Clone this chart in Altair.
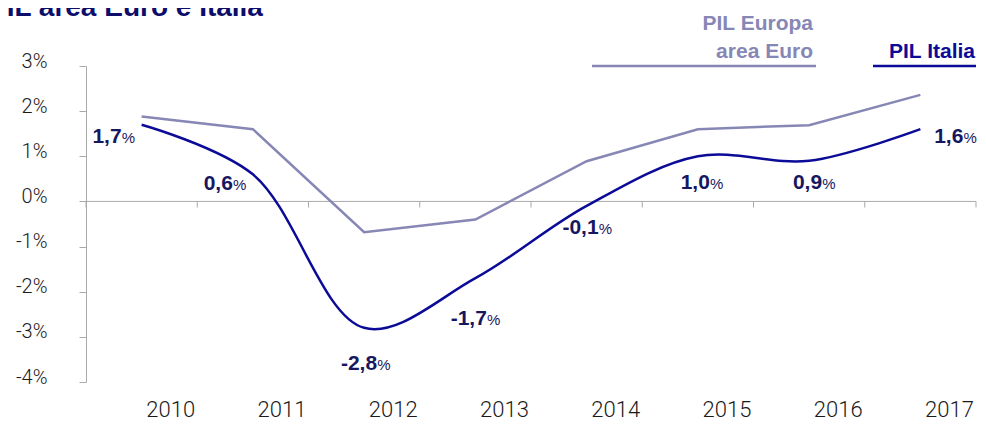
import altair as alt
import pandas as pd

# ---- data ----
years = [2010, 2011, 2012, 2013, 2014, 2015, 2016, 2017]
italia = [1.7, 0.6, -2.8, -1.7, -0.1, 1.0, 0.9, 1.6]
europa = [1.88, 1.60, -0.68, -0.40, 0.89, 1.60, 1.69, 2.36]
italia_labels = ["1,7", "0,6", "-2,8", "-1,7", "-0,1", "1,0", "0,9", "1,6"]
y_ticks = [-4, -3, -2, -1, 0, 1, 2, 3]
tick_bounds = [2009.5, 2010.5, 2011.5, 2012.5, 2013.5, 2014.5, 2015.5, 2016.5, 2017.5]

title_text = "PIL area Euro e Italia"
legend_eu = ["PIL Europa", "area Euro"]
legend_it = "PIL Italia"

# ---- styles ----
W, H = 890, 316
NAVY_LINE = "#0b0b98"
NAVY_TEXT = "#17175f"
EU_COLOR = "#8787b6"
AXIS_GRAY = "#aaaaaa"
BOLD_FONT = "Liberation Sans"
LIGHT_FONT = "Roboto"

# label offsets (dx, dy) in pixels from each Italy point
label_offsets = [(-20, 18), (-20, 16), (13, 42), (11.5, 47), (12, 28), (12, 33), (13, 28), (43, 14)]

df = pd.DataFrame({"year": years, "italia": italia, "europa": europa, "lab": italia_labels})
df_b = pd.DataFrame({"b": tick_bounds})
one = pd.DataFrame({"a": [0]})

x_scale = alt.Scale(domain=[2009.5, 2017.5], nice=False, zero=False)
y_scale = alt.Scale(domain=[-4, 3], nice=False, zero=False)

x_axis = alt.Axis(
    values=years, format="d", labelAlign="right", labelOffset=53, labelPadding=34,
    labelBaseline="alphabetic", domain=False, ticks=False, tickSize=0, grid=False,
    title=None, labelFont=LIGHT_FONT, labelFontWeight=300, labelFontSize=22,
    labelColor="#1a1a1a", labelFlush=False, labelOverlap=False, labelBound=False,
)
y_axis = alt.Axis(
    values=y_ticks, labelExpr="datum.value + '%'", domainColor=AXIS_GRAY, tickColor=AXIS_GRAY,
    tickSize=7, labelPadding=32, labelFontSize=20, labelBaseline="alphabetic", labelOffset=1,
    labelFont=LIGHT_FONT, labelFontWeight=300, labelColor="#1a1a1a", grid=False, title=None,
)

base = alt.Chart(df)

eu_line = base.mark_line(color=EU_COLOR, strokeWidth=2.5).encode(
    x=alt.X("year:Q", scale=x_scale, axis=x_axis),
    y=alt.Y("europa:Q", scale=y_scale, axis=y_axis),
)
it_line = base.mark_line(color=NAVY_LINE, strokeWidth=2.5, interpolate="catmull-rom").encode(
    x=alt.X("year:Q", scale=x_scale),
    y=alt.Y("italia:Q", scale=y_scale),
)

zero_rule = alt.Chart(one).mark_rule(color=AXIS_GRAY, strokeWidth=1).encode(
    y=alt.datum(0), x=alt.value(0), x2=alt.value(W)
)
tick_rules = alt.Chart(df_b).mark_rule(color=AXIS_GRAY, strokeWidth=1).encode(
    x=alt.X("b:Q", scale=x_scale), y=alt.datum(0), y2=alt.datum(-0.135)
)

layers = [zero_rule, tick_rules, eu_line, it_line]

for yr, (dx, dy) in zip(years, label_offsets):
    num = base.transform_filter(alt.datum.year == yr).mark_text(
        align="right", baseline="alphabetic", dx=dx, dy=dy, font=BOLD_FONT,
        fontWeight="bold", fontSize=21, color=NAVY_TEXT,
    ).encode(x=alt.X("year:Q", scale=x_scale), y=alt.Y("italia:Q", scale=y_scale), text="lab:N")
    pct = base.transform_filter(alt.datum.year == yr).mark_text(
        align="left", baseline="alphabetic", dx=dx, dy=dy, font=BOLD_FONT,
        fontWeight="normal", fontSize=15, color=NAVY_TEXT,
    ).encode(x=alt.X("year:Q", scale=x_scale), y=alt.Y("italia:Q", scale=y_scale), text=alt.value("%"))
    layers += [num, pct]

# title (partly cut at the top like the reference)
title = alt.Chart(one).mark_text(
    align="left", baseline="alphabetic", font=BOLD_FONT, fontWeight="bold", fontSize=28,
    color="#0d0d6b",
).encode(x=alt.value(-98), y=alt.value(-50), text=alt.value(title_text))

# legend
leg_eu1 = alt.Chart(one).mark_text(
    align="right", baseline="alphabetic", font=BOLD_FONT, fontWeight="bold", fontSize=21, color=EU_COLOR,
).encode(x=alt.value(727), y=alt.value(-36), text=alt.value(legend_eu[0]))
leg_eu2 = alt.Chart(one).mark_text(
    align="right", baseline="alphabetic", font=BOLD_FONT, fontWeight="bold", fontSize=21, color=EU_COLOR,
).encode(x=alt.value(727), y=alt.value(-8), text=alt.value(legend_eu[1]))
leg_it = alt.Chart(one).mark_text(
    align="right", baseline="alphabetic", font=BOLD_FONT, fontWeight="bold", fontSize=21, color=NAVY_LINE,
).encode(x=alt.value(889), y=alt.value(-8), text=alt.value(legend_it))
ul_eu = alt.Chart(one).mark_rule(color=EU_COLOR, strokeWidth=2.5).encode(
    x=alt.value(506), x2=alt.value(730), y=alt.value(0)
)
ul_it = alt.Chart(one).mark_rule(color=NAVY_LINE, strokeWidth=2.5).encode(
    x=alt.value(787), x2=alt.value(890), y=alt.value(0)
)

layers += [title, leg_eu1, leg_eu2, leg_it, ul_eu, ul_it]

chart = alt.layer(*layers).properties(
    width=W, height=H,
    background="white",
    autosize=alt.AutoSizeParams(type="none"),
    padding={"left": 78, "top": 58, "right": 2, "bottom": 40},
).configure_view(strokeWidth=0, stroke="transparent")

chart.save("out.html", embed_options={"renderer": "svg", "actions": False})
